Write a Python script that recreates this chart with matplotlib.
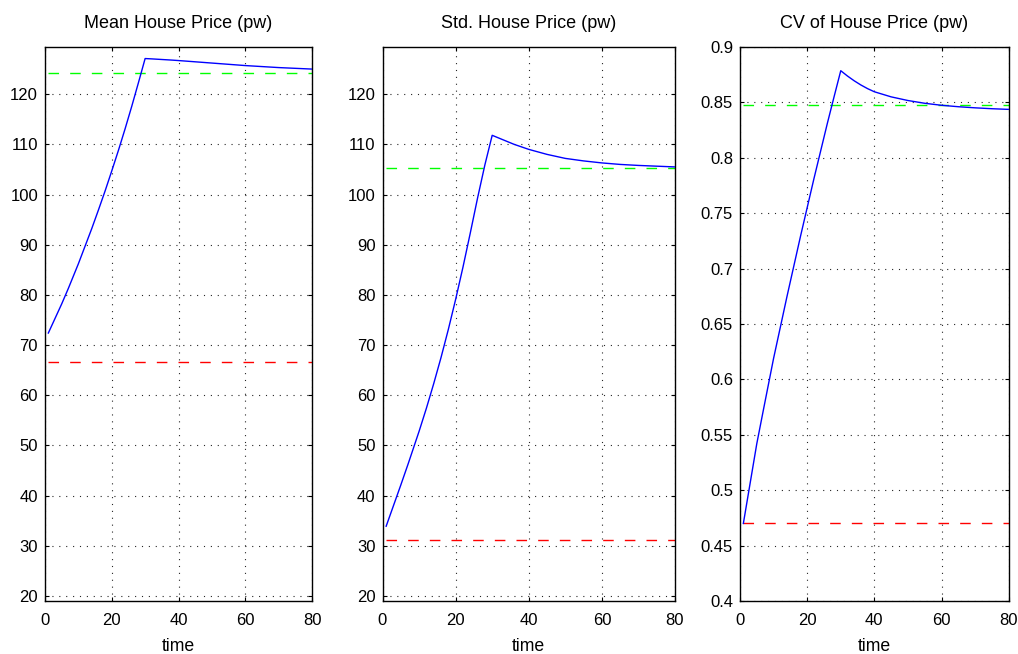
import matplotlib
matplotlib.use("Agg")
import matplotlib.pyplot as plt
from matplotlib.ticker import FuncFormatter

plt.rcParams['font.family'] = ['Liberation Sans', 'DejaVu Sans']

# ---- data ----
time = [1, 3, 5, 7, 10, 12, 14, 16, 18, 20, 22, 24, 26, 28, 30,
        32, 34, 36, 38, 40, 45, 50, 55, 60, 65, 70, 75, 80]

mean_price = [72.4, 75.3, 78.2, 81.3, 86.2, 89.7, 93.2, 96.9, 100.7, 104.7,
              108.8, 113.1, 117.6, 122.3, 127.1,
              127.03, 126.95, 126.87, 126.79, 126.7, 126.45, 126.2, 125.95,
              125.7, 125.5, 125.3, 125.15, 125.0]
mean_green = 124.2
mean_red = 66.6

std_price = [33.9, 38.0, 42.1, 46.3, 52.8, 57.4, 62.3, 67.5, 73.1, 79.1,
             85.5, 92.3, 99.3, 105.9, 111.8,
             111.2, 110.6, 110.0, 109.5, 109.0, 108.0, 107.2, 106.7,
             106.3, 106.0, 105.8, 105.65, 105.5]
std_green = 105.2
std_red = 31.2

cv_price = [0.470, 0.506, 0.542, 0.573, 0.619, 0.647, 0.675, 0.702, 0.729, 0.755,
            0.781, 0.806, 0.831, 0.855, 0.8786,
            0.8738, 0.8695, 0.8657, 0.8624, 0.8596, 0.855, 0.8517, 0.8492,
            0.8474, 0.8461, 0.8451, 0.8443, 0.8437]
cv_green = 0.8476
cv_red = 0.470

titles = ["Mean House Price (pw)", "Std. House Price (pw)", "CV of House Price (pw)"]
xticks = [0, 20, 40, 60, 80]
yticks_price = [20, 30, 40, 50, 60, 70, 80, 90, 100, 110, 120]
yticks_cv = [0.4, 0.45, 0.5, 0.55, 0.6, 0.65, 0.7, 0.75, 0.8, 0.85, 0.9]

panels = [
    dict(y=mean_price, g=mean_green, r=mean_red, yt=yticks_price, ylim=(19.0, 129.4)),
    dict(y=std_price, g=std_green, r=std_red, yt=yticks_price, ylim=(19.0, 129.4)),
    dict(y=cv_price, g=cv_green, r=cv_red, yt=yticks_cv, ylim=(0.4, 0.9)),
]

W, H = 1018, 654
fig = plt.figure(figsize=(W / 100, H / 100), dpi=100)
boxes = [(45, 312), (382.5, 675), (740, 1008.7)]
top_px, bot_px = 47, 601

fmt = FuncFormatter(lambda v, p: ('%g' % round(v, 4)))

for (l, r), p, title in zip(boxes, panels, titles):
    ax = fig.add_axes([l / W, (H - bot_px) / H, (r - l) / W, (bot_px - top_px) / H])
    ax.plot(time, p['y'], color='#0000ff', lw=1.0, zorder=3)
    ax.plot([time[0], time[-1]], [p['g'], p['g']], color='#00ff00', lw=1.0,
            ls=(0, (7.6, 8.0)), zorder=2)
    ax.plot([time[0], time[-1]], [p['r'], p['r']], color='#ff0000', lw=1.0,
            ls=(0, (7.6, 8.0)), zorder=2)
    ax.set_xlim(0, 80)
    ax.set_ylim(*p['ylim'])
    ax.set_xticks(xticks)
    ax.set_yticks(p['yt'])
    ax.yaxis.set_major_formatter(fmt)
    ax.grid(True, color='0.15', linestyle=(0, (1, 5.2)), linewidth=0.8)
    ax.tick_params(direction='in', length=3, width=0.8, top=True, right=True,
                   labelsize=12, pad=5, colors='black')
    ax.tick_params(axis='x', pad=8.5)
    for s in ax.spines.values():
        s.set_linewidth(1.0)
        s.set_color('black')
    ax.set_title(title, fontsize=13, pad=14)
    ax.set_xlabel('time', fontsize=12.7, labelpad=7.5)

fig.savefig('out.png', dpi=100)
